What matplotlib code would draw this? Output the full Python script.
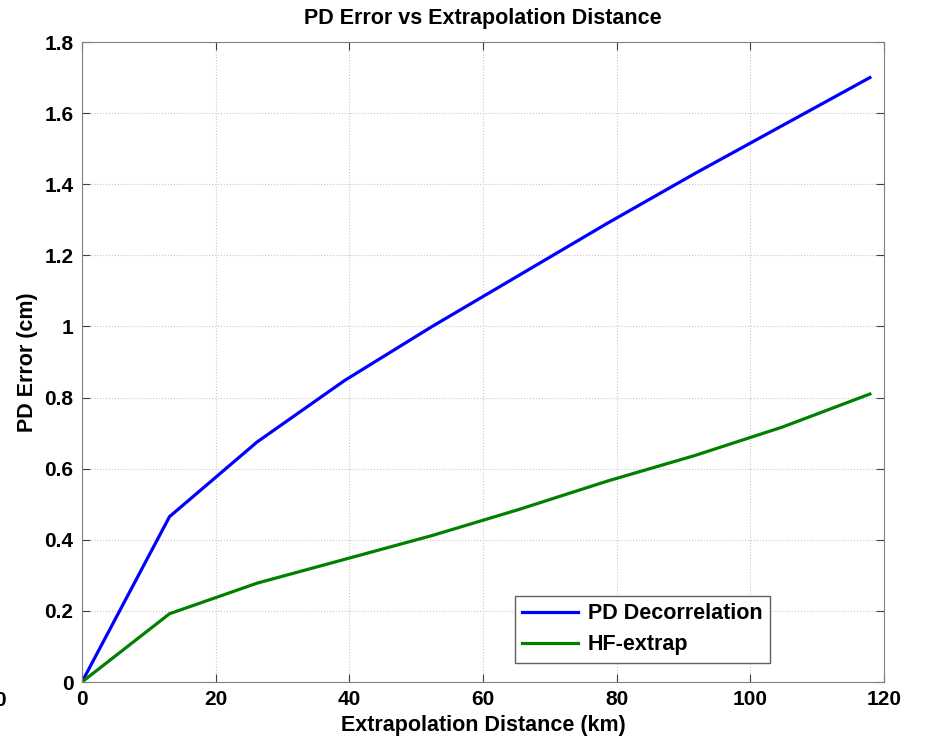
import numpy as np
import matplotlib.pyplot as plt

plt.rcParams['font.family'] = ['Liberation Sans', 'DejaVu Sans']
plt.rcParams['font.weight'] = 'bold'

# extrapolation distance (km)
dist = [0, 13.1, 26.2, 39.3, 52.4, 65.5, 78.6, 91.7, 104.8, 117.9]
pd_decorr = [0, 0.465, 0.675, 0.848, 1.0, 1.145, 1.29, 1.43, 1.565, 1.70]
hf_extrap = [0, 0.192, 0.278, 0.345, 0.412, 0.486, 0.565, 0.637, 0.717, 0.81]

fig = plt.figure(figsize=(9.25, 7.37), dpi=100)
ax = fig.add_axes([0.0886, 0.0746, 0.867, 0.8684])

ax.plot(dist, pd_decorr, color='#0000ff', lw=2.3, label='PD Decorrelation')
ax.plot(dist, hf_extrap, color='#008000', lw=2.3, label='HF-extrap')

ax.set_xlim(0, 120)
ax.set_ylim(0, 1.8)
ax.set_xticks(np.arange(0, 121, 20))
ax.set_yticks(np.arange(0, 1.81, 0.2))
ax.set_yticklabels(['0', '0.2', '0.4', '0.6', '0.8', '1', '1.2', '1.4', '1.6', '1.8'])
ax.grid(True, ls=':', color='#c8c8c8', lw=0.8)
ax.tick_params(direction='in', top=True, right=True, labelsize=15, length=6,
               color='#404040', pad=6)
for s in ax.spines.values():
    s.set_color('#808080')

ax.set_title('PD Error vs Extrapolation Distance', fontsize=15.5, fontweight='bold', pad=13)
ax.set_xlabel('Extrapolation Distance (km)', fontsize=15.5, fontweight='bold', labelpad=4)
ax.set_ylabel('PD Error (cm)', fontsize=15.5, fontweight='bold', labelpad=5)

leg = ax.legend(loc='lower right', bbox_to_anchor=(0.8712, 0.0135), fontsize=15.5,
                fancybox=False, framealpha=1, edgecolor='#606060',
                handlelength=2.6, handletextpad=0.45, borderpad=0.35,
                labelspacing=0.45)
leg.get_frame().set_linewidth(1.0)

# stray cropped label at the left edge
fig.text(0.006, 0.05, '0', fontsize=15, fontweight='bold', ha='right', va='center')

fig.savefig('out.png', dpi=100)
